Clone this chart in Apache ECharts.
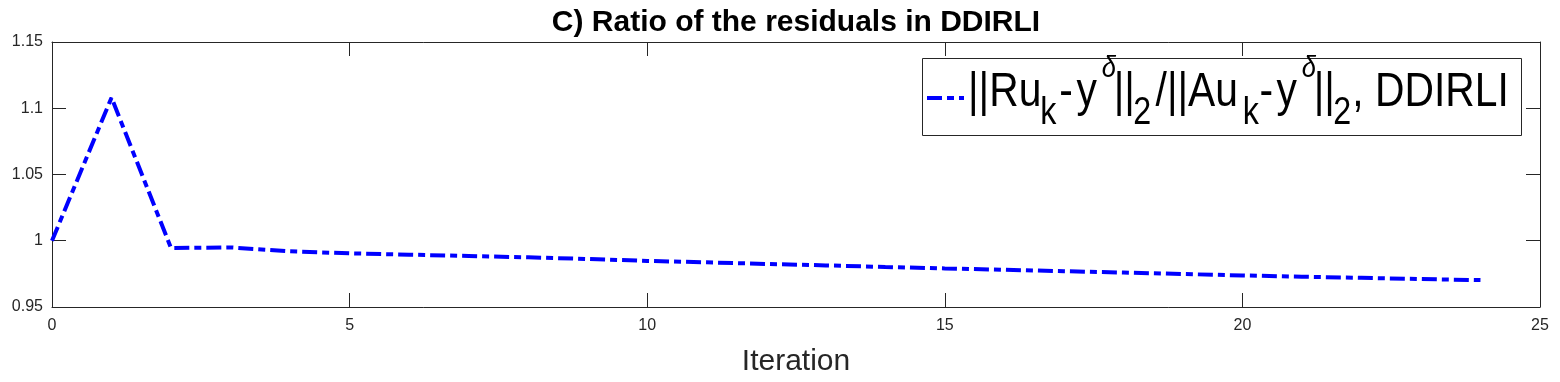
<!DOCTYPE html>
<html><head><meta charset="utf-8">
<script src="https://cdn.jsdelivr.net/npm/echarts@6/dist/echarts.min.js"></script>
<style>html,body{margin:0;padding:0;background:#fff}#c{width:1560px;height:382px}</style>
</head><body><div id="c"></div>
<script>
const iterations = [0,1,2,3,4,5,6,7,8,9,10,11,12,13,14,15,16,17,18,19,20,21,22,23,24];
const ratioValues = [1.000,1.108,0.9945,0.995,0.992,0.9905,0.9895,0.9885,0.9875,0.9862,0.9848,0.9837,0.9825,0.9814,0.9802,0.9791,0.9781,0.9770,0.9760,0.9749,0.9738,0.9729,0.9720,0.9711,0.9703];
const xTicks = [0,5,10,15,20,25];
const yTicks = [0.95,1.0,1.05,1.1,1.15];
const titleText = 'C) Ratio of the residuals in DDIRLI';
const xName = 'Iteration';
const legendName = '||Ru_k-y^δ||_2/||Au_k-y^δ||_2, DDIRLI';

const F = 'Liberation Sans, Arial, sans-serif';
const AX = '#262626';
const BLUE = '#0000ff';
const DASH = [15,5,7,5];
const chart = echarts.init(document.getElementById('c'), null, {renderer:'canvas'});
const seriesData = iterations.map((x,i)=>[x, ratioValues[i]]);
const axisCommon = {
  axisLine:{show:true,onZero:false,lineStyle:{color:AX,width:1}},
  axisTick:{show:true,inside:true,length:14,lineStyle:{color:AX,width:1}},
  splitLine:{show:false}
};
// legend text styles (main / subscript / superscript) with token widths
const SX = 0.85, H = 90;
function tok(size, off, w, italic, al){
  const pt = (H - size)/2 + off, pb = (H - size)/2 - off;
  const o = {fontFamily:F,fontSize:size,lineHeight:size,padding:[pt,0,pb,0],color:'#000',verticalAlign:'middle',align:al||'left'};
  if (w) o.width = w/SX;
  if (italic) o.fontStyle = 'italic';
  return o;
}
const rich = {
  a1:tok(48,0,72.3), s1:tok(38,21.5,19), h1:tok(48,0,13), y1:tok(48,0,29,false,'right'), p1:tok(30,-23.8,15,true),
  a3:tok(48,0,16), s2:tok(38,21.5,20), a4:tok(48,0,89), s3:tok(38,21.5,19),
  h2:tok(48,0,12), y2:tok(48,0,29,false,'right'), p2:tok(30,-23.8,15,true), a6:tok(48,0,16), s4:tok(38,21.5,20),
  a7:tok(48,0,0)
};
const legendRich = '{a1|||Ru}{s1|k}{h1|-}{y1|y}{p1|δ}{a3|||}{s2|2}{a4|/||Au}{s3|k}{h2|-}{y2|y}{p2|δ}{a6|||}{s4|2}{a7|, DDIRLI}';

chart.setOption({
  animation:false,
  backgroundColor:'#fff',
  title:{text:titleText,left:791,textAlign:'center',top:3,
    textStyle:{fontFamily:F,fontWeight:'bold',fontSize:30,color:'#000'}},
  grid:{left:52,right:20,top:42,bottom:75,containLabel:false},
  legend:{show:false},
  xAxis:[
    Object.assign({type:'value',min:0,max:25,interval:5,position:'bottom',
      name:xName,nameLocation:'middle',nameGap:40,
      nameTextStyle:{fontFamily:F,fontSize:30,color:AX},
      axisLabel:{fontFamily:F,fontSize:16,color:AX,margin:11,
        formatter:v=>xTicks.includes(v)?String(v):''}},axisCommon),
    Object.assign({type:'value',min:0,max:25,interval:5,position:'top',
      axisLabel:{show:false}},axisCommon)
  ],
  yAxis:[
    Object.assign({type:'value',min:0.95,max:1.15,interval:0.05,position:'left',
      axisLabel:{fontFamily:F,fontSize:16,color:AX,margin:9,
        formatter:v=>{const t=yTicks.find(y=>Math.abs(y-v)<1e-9);return t===undefined?'':String(+t.toFixed(2));}}},axisCommon),
    Object.assign({type:'value',min:0.95,max:1.15,interval:0.05,position:'right',
      axisLabel:{show:false}},axisCommon)
  ],
  graphic:[
    {type:'rect',z:100,shape:{x:922.5,y:58.5,width:599,height:77},
      style:{fill:'#fff',stroke:AX,lineWidth:1}},
    {type:'line',z:101,shape:{x1:927,y1:98,x2:964,y2:98},
      style:{stroke:BLUE,lineWidth:4,lineDash:DASH}},
    {type:'text',z:101,x:968,y:93.4-H/2+20,scaleX:SX,scaleY:1,
      style:{text:legendRich,rich:rich,verticalAlign:'top',align:'left',fontFamily:F,fontSize:48,fill:'#000'}}
  ],
  series:[{
    name:legendName,type:'line',data:seriesData,xAxisIndex:0,yAxisIndex:0,
    showSymbol:false,symbol:'none',
    lineStyle:{color:BLUE,width:4,type:DASH},
    itemStyle:{color:BLUE}
  }]
});
</script></body></html>
